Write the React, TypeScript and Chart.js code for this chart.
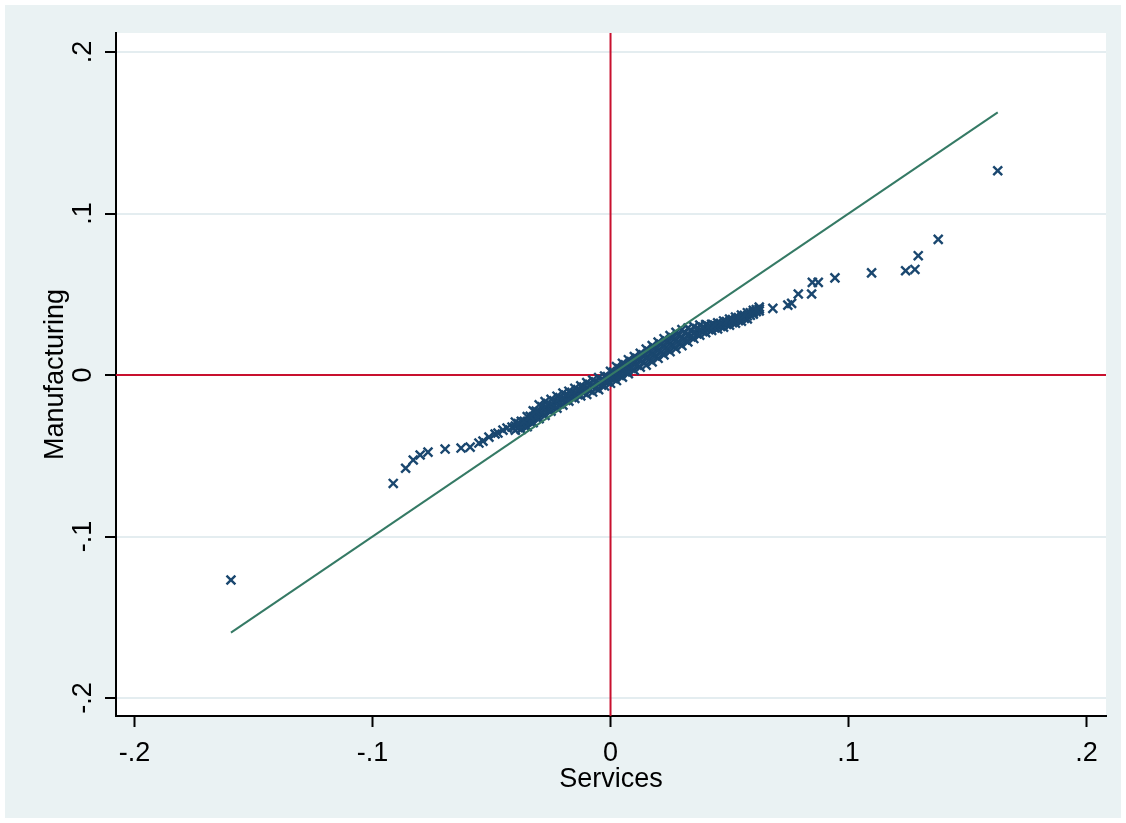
import { useEffect, useRef } from "react";
import { Chart, registerables } from "chart.js";

Chart.register(...registerables);

const FONT = '"Liberation Sans", Arial, Helvetica, sans-serif';

// axis ranges and ticks
const xRange = [-0.2078, 0.2082];
const yRange = [-0.2111, 0.2118];
const xTickValues = [-0.2, -0.1, 0, 0.1, 0.2];
const xTickLabels = ["-.2", "-.1", "0", ".1", ".2"];
const yTickValues = [-0.2, -0.1, 0, 0.1, 0.2];
const yTickLabels = ["-.2", "-.1", "0", ".1", ".2"];
const xTitle = "Services";
const yTitle = "Manufacturing";

// lower tail quantiles (Services, Manufacturing)
const leftTailX = [-0.1595, -0.0913, -0.0861, -0.0829, -0.08, -0.0767, -0.0695, -0.0628, -0.059, -0.0553, -0.0536, -0.0511, -0.0485, -0.0473, -0.0452, -0.0435, -0.0414];
const leftTailY = [-0.1269, -0.0671, -0.0577, -0.0526, -0.0495, -0.0477, -0.0458, -0.0452, -0.0446, -0.0421, -0.0409, -0.0384, -0.0365, -0.0359, -0.0341, -0.0328, -0.0322];

// dense central band (rows of points read across the band)
const bandX = [-0.04, -0.0375, -0.035, -0.0325, -0.03, -0.0275, -0.025, -0.0225, -0.02, -0.0175, -0.015, -0.0125, -0.01, -0.0075, -0.005, -0.0025, 0, 0.0025, 0.005, 0.0075, 0.01, 0.0125, 0.015, 0.0175, 0.02, 0.0225, 0.025, 0.0275, 0.03, 0.0325, 0.035, 0.0375, 0.04, 0.0425, 0.045, 0.0475, 0.05, 0.0525, 0.055, 0.0575, 0.06, 0.0625];
const bandYMid = [-0.0316, -0.0311, -0.0288, -0.0258, -0.0227, -0.0207, -0.0187, -0.0168, -0.0149, -0.0131, -0.0113, -0.0098, -0.0083, -0.0068, -0.0053, -0.0037, -0.0014, 0.0009, 0.003, 0.0052, 0.0072, 0.0092, 0.0111, 0.0132, 0.0154, 0.0175, 0.0195, 0.0214, 0.0232, 0.0248, 0.0263, 0.0278, 0.0287, 0.0296, 0.0305, 0.0316, 0.0328, 0.034, 0.0353, 0.0367, 0.0389, 0.0409];
const bandYLow = [-0.0341, -0.0336, -0.0319, -0.0295, -0.027, -0.025, -0.0224, -0.0205, -0.0186, -0.0162, -0.0144, -0.0129, -0.012, -0.0105, -0.009, -0.0068, -0.0051, -0.0034, -0.0013, 0.0009, 0.0029, 0.0049, 0.0061, 0.0082, 0.0104, 0.0125, 0.0145, 0.0164, 0.0182, 0.0205, 0.0226, 0.0247, 0.0262, 0.0277, 0.0286, 0.0297, 0.0309, 0.0321, 0.0334, 0.0348, 0.0377, 0.0397];
const bandYHigh = [-0.0291, -0.0286, -0.0257, -0.0221, -0.0184, -0.0164, -0.015, -0.0131, -0.0112, -0.01, -0.0082, -0.0067, -0.0046, -0.0031, -0.0016, -0.0006, 0.0023, 0.0052, 0.0073, 0.0095, 0.0115, 0.0135, 0.0161, 0.0182, 0.0204, 0.0225, 0.0245, 0.0264, 0.0282, 0.0291, 0.03, 0.0309, 0.0312, 0.0315, 0.0324, 0.0335, 0.0347, 0.0359, 0.0372, 0.0386, 0.0401, 0.0421];
const bandX2 = [-0.03875, -0.03625, -0.03375, -0.03125, -0.02875, -0.02625, -0.02375, -0.02125, -0.01875, -0.01625, -0.01375, -0.01125, -0.00875, -0.00625, -0.00375, -0.00125, 0.00125, 0.00375, 0.00625, 0.00875, 0.01125, 0.01375, 0.01625, 0.01875, 0.02125, 0.02375, 0.02625, 0.02875, 0.03125, 0.03375, 0.03625, 0.03875, 0.04125, 0.04375, 0.04625, 0.04875, 0.05125, 0.05375, 0.05625, 0.05875, 0.06125];
const bandY2Low = [-0.0326, -0.0314, -0.029, -0.0263, -0.0239, -0.0217, -0.0196, -0.0177, -0.0157, -0.0138, -0.0121, -0.0108, -0.0094, -0.0079, -0.0062, -0.0043, -0.0023, -0.0002, 0.0019, 0.0041, 0.0061, 0.0079, 0.0097, 0.0118, 0.014, 0.016, 0.018, 0.0198, 0.0217, 0.0236, 0.0254, 0.0269, 0.0281, 0.0291, 0.0301, 0.0313, 0.0325, 0.0337, 0.0351, 0.037, 0.0393];
const bandY2High = [-0.0301, -0.0286, -0.0256, -0.0223, -0.0196, -0.0177, -0.0159, -0.014, -0.0123, -0.0107, -0.009, -0.0074, -0.0057, -0.0042, -0.0028, -0.0009, 0.0018, 0.0041, 0.0063, 0.0084, 0.0104, 0.0125, 0.0147, 0.0168, 0.019, 0.021, 0.023, 0.0248, 0.0263, 0.0276, 0.0288, 0.0297, 0.0303, 0.031, 0.032, 0.0332, 0.0344, 0.0356, 0.037, 0.0386, 0.0405];

// upper tail quantiles
const rightTailX = [0.0682, 0.0745, 0.0761, 0.0789, 0.0845, 0.0848, 0.0873, 0.0943, 0.1097, 0.124, 0.1279, 0.1293, 0.1377, 0.1627];
const rightTailY = [0.0413, 0.0433, 0.0444, 0.0502, 0.0502, 0.0574, 0.0574, 0.0602, 0.0633, 0.0646, 0.0654, 0.0739, 0.084, 0.1265];

// 45-degree reference line
const refLineX = [-0.1595, 0.1627];
const refLineY = [-0.1595, 0.1627];

const zip = (xs: number[], ys: number[]) => xs.map((x, i) => ({ x, y: ys[i] }));

export default function App() {
  const ref = useRef<HTMLCanvasElement | null>(null);

  useEffect(() => {
    const canvas = ref.current;
    if (!canvas) return;

    const points = [
      ...zip(leftTailX, leftTailY),
      ...zip(bandX, bandYLow),
      ...zip(bandX, bandYMid),
      ...zip(bandX, bandYHigh),
      ...zip(bandX2, bandY2Low),
      ...zip(bandX2, bandY2High),
      ...zip(rightTailX, rightTailY),
    ];

    const bgPlugin = {
      id: "bg",
      beforeDraw(chart: any) {
        const { ctx, chartArea, width, height } = chart;
        ctx.save();
        ctx.fillStyle = "#ffffff";
        ctx.fillRect(0, 0, width, height);
        ctx.fillStyle = "#eaf2f3";
        ctx.fillRect(5, 5, width - 10, height - 10);
        ctx.fillStyle = "#ffffff";
        ctx.fillRect(chartArea.left, chartArea.top, chartArea.right - chartArea.left, chartArea.bottom - chartArea.top);
        ctx.restore();
      },
      afterDraw(chart: any) {
        const { ctx } = chart;
        const ys = chart.scales.y;
        ctx.save();
        ctx.fillStyle = "#000";
        ctx.font = `27px ${FONT}`;
        ctx.textAlign = "center";
        ctx.textBaseline = "middle";
        yTickValues.forEach((v, i) => {
          const py = ys.getPixelForValue(v);
          ctx.save();
          ctx.translate(84, py);
          ctx.rotate(-Math.PI / 2);
          ctx.fillText(yTickLabels[i], 0, 0);
          ctx.restore();
        });
        ctx.restore();
      },
    };

    const chart = new Chart(canvas, {
      type: "scatter",
      data: {
        datasets: [
          {
            label: "ref",
            data: zip(refLineX, refLineY),
            showLine: true,
            borderColor: "#357a65",
            borderWidth: 2,
            pointRadius: 0,
            order: 0,
          },
          {
            label: "qq",
            data: points,
            pointStyle: "crossRot",
            pointRadius: 6.3,
            pointBorderWidth: 2.4,
            borderColor: "#1a476f",
            backgroundColor: "#1a476f",
            order: 1,
          },
          {
            label: "xline",
            data: [{ x: 0, y: yRange[0] }, { x: 0, y: yRange[1] }],
            showLine: true,
            borderColor: "#c8102e",
            borderWidth: 2,
            pointRadius: 0,
            order: 2,
          },
          {
            label: "yline",
            data: [{ x: xRange[0], y: 0 }, { x: xRange[1], y: 0 }],
            showLine: true,
            borderColor: "#c8102e",
            borderWidth: 2,
            pointRadius: 0,
            order: 2,
          },
        ],
      },
      options: {
        animation: false,
        responsive: false,
        layout: { padding: { left: 0, top: 33, right: 20, bottom: 0 } },
        plugins: { legend: { display: false }, tooltip: { enabled: false } },
        scales: {
          x: {
            type: "linear",
            min: xRange[0],
            max: xRange[1],
            afterBuildTicks: (s: any) => {
              s.ticks = xTickValues.map((v) => ({ value: v }));
            },
            afterFit: (s: any) => {
              s.height = 107;
            },
            ticks: {
              autoSkip: false,
              maxRotation: 0,
              minRotation: 0,
              padding: 10,
              color: "#000",
              font: { family: FONT, size: 27 },
              callback: (v: any) => {
                const i = xTickValues.findIndex((t) => Math.abs(t - v) < 1e-9);
                return i >= 0 ? xTickLabels[i] : "";
              },
            },
            grid: {
              drawOnChartArea: false,
              drawTicks: true,
              tickLength: 11,
              tickWidth: 2,
              tickColor: "#000",
            },
            border: { display: true, color: "#000", width: 2 },
            title: {
              display: true,
              text: xTitle,
              color: "#000",
              font: { family: FONT, size: 27 },
              padding: { top: 0, bottom: 27 },
            },
          },
          y: {
            type: "linear",
            min: yRange[0],
            max: yRange[1],
            afterBuildTicks: (s: any) => {
              s.ticks = yTickValues.map((v) => ({ value: v }));
            },
            afterFit: (s: any) => {
              s.width = 116;
            },
            ticks: { display: false },
            grid: {
              drawOnChartArea: true,
              color: "#e4edf0",
              lineWidth: 2,
              drawTicks: true,
              tickLength: 11,
              tickWidth: 2,
              tickColor: "#000",
            },
            border: { display: true, color: "#000", width: 2 },
            title: {
              display: true,
              text: yTitle,
              color: "#000",
              font: { family: FONT, size: 27 },
              padding: { top: 39, bottom: 0 },
            },
          },
        },
      },
      plugins: [bgPlugin],
    } as any);

    return () => chart.destroy();
  }, []);

  return (
    <div style={{ position: "absolute", left: 0, top: 0, width: 1126, height: 823 }}>
      <canvas ref={ref} width={1126} height={823} style={{ display: "block" }} />
    </div>
  );
}
